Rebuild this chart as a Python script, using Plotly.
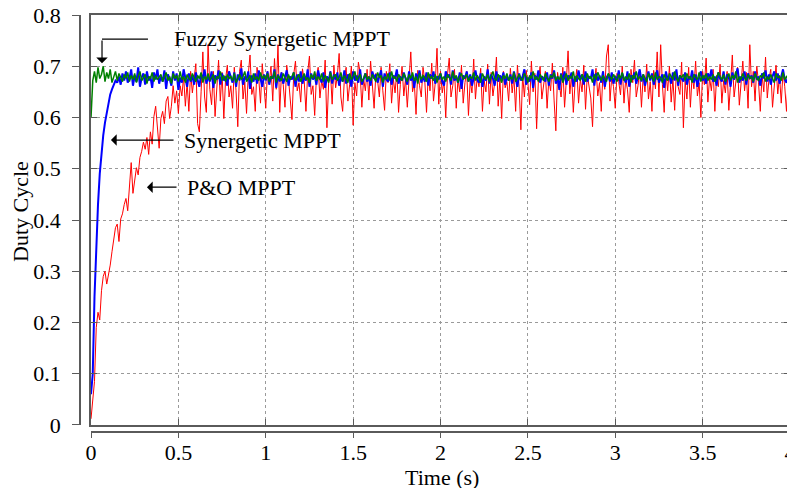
import plotly.graph_objects as go

# Duty cycle samples in thousandths (x1000), sampled uniformly from 0 to 4 s
po_mppt = [
    12, 48, 85, 190, 220, 205, 262, 290, 300, 275, 292, 312, 338, 360, 385, 392, 358, 402, 412, 430,
    442, 418, 470, 512, 452, 482, 502, 488, 522, 534, 552, 538, 561, 528, 572, 548, 602, 622, 578, 540,
    598, 612, 588, 632, 641, 598, 622, 662, 628, 652, 608, 662, 642, 681, 622, 668, 612, 690, 648, 672,
    705, 588, 572, 650, 728, 640, 610, 742, 655, 625, 690, 602, 668, 712, 632, 688, 598, 675, 702, 640,
    662, 618, 698, 652, 582, 690, 712, 636, 670, 608, 684, 722, 645, 660, 612, 698, 676, 628, 705, 650,
    618, 690, 668, 700, 632, 715, 655, 742, 610, 688, 664, 620, 702, 676, 640, 596, 684, 710, 652, 668,
    630, 695, 672, 612, 688, 720, 645, 662, 604, 680, 698, 638, 672, 655, 712, 580, 668, 690, 626, 702,
    658, 684, 725, 640, 612, 676, 698, 632, 664, 700, 585, 668, 642, 708, 688, 620, 676, 652, 694, 634,
    710, 662, 618, 686, 672, 640, 698, 652, 614, 690, 668, 705, 628, 676, 648, 692, 610, 664, 700, 642,
    676, 620, 688, 728, 650, 668, 606, 692, 662, 640, 698, 672, 610, 684, 652, 706, 632, 668, 735, 626,
    690, 648, 672, 600, 684, 716, 640, 662, 694, 618, 676, 650, 702, 628, 668, 690, 604, 672, 648, 714,
    636, 680, 660, 696, 612, 672, 650, 704, 626, 688, 642, 668, 718, 622, 676, 598, 690, 658, 670, 632,
    696, 648, 680, 612, 702, 660, 576, 684, 640, 692, 668, 625, 710, 650, 686, 578, 672, 700, 636, 662,
    690, 618, 676, 652, 706, 634, 574, 688, 662, 640, 698, 620, 672, 730, 646, 684, 610, 668, 694, 628,
    676, 650, 702, 616, 684, 660, 638, 582, 672, 696, 642, 668, 612, 690, 655, 720, 742, 632, 680, 660,
    618, 686, 670, 644, 700, 628, 676, 654, 610, 694, 668, 712, 640, 662, 690, 620, 682, 650, 704, 636,
    670, 612, 692, 656, 728, 640, 742, 664, 610, 688, 652, 700, 630, 676, 614, 692, 660, 645, 708, 580,
    672, 636, 698, 620, 684, 656, 710, 642, 668, 600, 690, 664, 716, 630, 678, 652, 694, 612, 682, 660,
    704, 628, 672, 648, 690, 614, 680, 722, 640, 666, 698, 624, 676, 710, 652, 688, 618, 742, 660, 690,
    632, 700, 668, 612, 684, 650, 718, 638, 676, 694, 620, 664, 702, 646, 682, 628, 690, 660, 612, 675,
    656,
]

synergetic_mppt = [
    60, 100, 250, 360, 430, 490, 530, 565, 590, 610, 625, 645, 655, 665, 672, 668, 680, 664, 686, 672,
    690, 668, 676, 694, 662, 682, 670, 698, 660, 678, 686, 664, 690, 672, 680, 658, 688, 674, 694, 666,
    680, 670, 692, 656, 684, 676, 662, 690, 672, 686, 654, 678, 668, 694, 676, 660, 686, 670, 682, 664,
    688, 672, 660, 684, 676, 694, 666, 680, 670, 690, 658, 682, 674, 692, 664, 686, 672, 680, 662, 690,
    676, 668, 688, 660, 684, 672, 696, 664, 680, 674, 690, 656, 682, 670, 686, 666, 692, 674, 660, 684,
    672, 690, 664, 680, 676, 694, 658, 684, 670, 688, 666, 678, 692, 662, 680, 674, 688, 660, 684, 670,
    690, 666, 680, 672, 694, 660, 686, 674, 682, 664, 692, 676, 668, 688, 658, 680, 672, 690, 666, 684,
    674, 688, 662, 680, 670, 692, 666, 684, 676, 660, 690, 672, 682, 668, 694, 664, 678, 686, 670, 680,
    662, 690, 676, 684, 668, 680, 692, 660, 686, 674, 670, 688, 664, 682, 676, 694, 666, 680, 672, 688,
    676, 664, 690, 672, 682, 658, 686, 674, 692, 668, 680, 670, 688, 662, 684, 676, 690, 666, 680, 674,
    686, 670, 662, 690, 678, 684, 664, 692, 672, 680, 668, 688, 656, 682, 676, 690, 670, 684, 662, 678,
    692, 674, 668, 686, 660, 680, 672, 694, 666, 684, 676, 662, 690, 670, 682, 674, 688, 664, 680, 672,
    684, 666, 690, 676, 660, 686, 672, 680, 694, 664, 678, 670, 688, 658, 682, 674, 692, 668, 680, 676,
    670, 688, 662, 684, 676, 692, 666, 680, 654, 686, 672, 690, 664, 682, 676, 688, 660, 680, 670, 692,
    674, 684, 664, 690, 670, 680, 676, 694, 662, 686, 672, 682, 668, 690, 660, 678, 684, 670, 688, 666,
    680, 672, 692, 664, 686, 676, 668, 690, 660, 682, 674, 688, 666, 680, 694, 670, 684, 662, 678, 690,
    672, 686, 664, 680, 692, 668, 676, 684, 658, 690, 674, 680, 666, 688, 672, 694, 662, 682, 676, 670,
    688, 664, 680, 674, 692, 668, 684, 660, 678, 690, 672, 682, 666, 686, 676, 694, 670, 680, 662, 688,
    676, 670, 690, 664, 684, 678, 660, 688, 674, 682, 696, 668, 680, 672, 690, 664, 686, 676, 682, 668,
    690, 674, 680, 662, 686, 676, 692, 670, 684, 664, 680, 690, 672, 686, 666, 680, 694, 674, 668, 684,
    676,
]

fuzzy_synergetic_mppt = [
    600, 672, 690, 668, 698, 676, 684, 700, 670, 688, 676, 694, 668, 682, 690, 672, 686, 678, 670, 684,
    676, 688, 670, 682, 674, 686, 668, 680, 690, 672, 678, 684, 666, 680, 676, 688, 670, 682, 674, 680,
    684, 670, 678, 688, 672, 680, 666, 686, 676, 682, 670, 690, 674, 680, 668, 684, 676, 672, 686, 678,
    670, 682, 676, 688, 668, 680, 674, 686, 672, 678, 684, 666, 680, 676, 690, 672, 682, 670, 684, 676,
    680, 672, 686, 668, 678, 684, 674, 680, 690, 670, 676, 682, 668, 686, 674, 680, 672, 688, 676, 682,
    674, 686, 670, 680, 676, 690, 668, 682, 676, 672, 686, 678, 670, 684, 674, 680, 688, 672, 678, 684,
    670, 680, 686, 674, 678, 668, 684, 676, 690, 672, 680, 674, 686, 670, 682, 676, 668, 688, 674, 680,
    684, 672, 678, 688, 670, 682, 676, 668, 686, 674, 680, 690, 672, 678, 684, 670, 676, 686, 674, 680,
    672, 684, 676, 670, 688, 678, 682, 668, 680, 674, 686, 672, 690, 676, 680, 670, 684, 678, 672, 686,
    678, 670, 684, 676, 688, 672, 680, 666, 686, 674, 682, 678, 670, 688, 676, 680, 672, 684, 668, 680,
    686, 674, 680, 670, 684, 678, 672, 690, 676, 682, 668, 680, 686, 674, 678, 684, 670, 680, 676, 688,
    672, 682, 676, 668, 686, 678, 674, 684, 670, 680, 690, 676, 672, 684, 678, 668, 682, 676, 686, 672,
    680, 674, 688, 670, 678, 684, 676, 672, 686, 680, 668, 682, 676, 690, 674, 680, 670, 684, 678, 672,
    686, 676, 670, 682, 678, 688, 672, 680, 674, 684, 668, 678, 686, 672, 680, 676, 690, 670, 682, 676,
    672, 684, 678, 670, 686, 676, 680, 668, 684, 674, 688, 678, 672, 682, 676, 670, 686, 680, 674, 684,
    678, 670, 684, 676, 688, 672, 680, 674, 686, 668, 682, 676, 690, 674, 680, 672, 684, 678, 670, 686,
    676, 682, 670, 688, 674, 680, 678, 668, 684, 676, 672, 686, 680, 674, 690, 676, 670, 682, 678, 684,
    672, 686, 676, 680, 668, 684, 678, 674, 688, 670, 682, 676, 686, 672, 680, 674, 684, 670, 678, 688,
    680, 674, 684, 670, 678, 686, 672, 682, 676, 690, 668, 680, 674, 686, 678, 672, 684, 676, 680, 670,
    686, 676, 672, 682, 678, 688, 670, 680, 674, 684, 676, 668, 686, 678, 680, 672, 688, 674, 680, 676,
    678,
]

T_END = 4.0
x_ticks = [0, 0.5, 1, 1.5, 2, 2.5, 3, 3.5, 4]
x_tick_labels = ["0", "0.5", "1", "1.5", "2", "2.5", "3", "3.5", "4"]
y_ticks = [0, 0.1, 0.2, 0.3, 0.4, 0.5, 0.6, 0.7, 0.8]
y_tick_labels = ["0", "0.1", "0.2", "0.3", "0.4", "0.5", "0.6", "0.7", "0.8"]


def times(vals):
    n = len(vals)
    return [T_END * i / (n - 1) for i in range(n)]


def duty(vals):
    return [v / 1000.0 for v in vals]


FONT = "Liberation Serif"
AX = "#5a5a5a"

fig = go.Figure()
fig.add_trace(go.Scatter(x=times(po_mppt), y=duty(po_mppt), mode="lines",
                         line=dict(color="#ff0000", width=1), name="P&O MPPT"))
fig.add_trace(go.Scatter(x=times(synergetic_mppt), y=duty(synergetic_mppt), mode="lines",
                         line=dict(color="#0000ff", width=2), name="Synergetic MPPT"))
fig.add_trace(go.Scatter(x=times(fuzzy_synergetic_mppt), y=duty(fuzzy_synergetic_mppt), mode="lines",
                         line=dict(color="#008000", width=1.5), name="Fuzzy Synergetic MPPT"))
# carrier trace for the offset axes
fig.add_trace(go.Scatter(x=[None], y=[None], xaxis="x2", yaxis="y2", showlegend=False,
                         hoverinfo="skip"))

box_axis = dict(showgrid=True, gridcolor="#9a9a9a", griddash="dot", gridwidth=1,
                ticks="inside", ticklen=6, tickcolor=AX, tickwidth=1,
                showline=True, linecolor=AX, linewidth=1.5, mirror="ticks",
                showticklabels=False, zeroline=False, automargin=False)

# The page body keeps its default 8px margin: the figure is sized so that the
# page does not overflow the 795x496 window, and margins never auto-expand.
fig.update_layout(
    width=787, height=480,
    margin=dict(l=72, r=5, t=7, b=56, pad=0, autoexpand=False),
    paper_bgcolor="white", plot_bgcolor="white",
    showlegend=False,
    font=dict(family=FONT, color="black"),
    xaxis=dict(domain=[0.0155, 1], range=[0, 4], tickvals=x_ticks, **box_axis),
    yaxis=dict(domain=[0.0168, 1], range=[0, 0.8], tickvals=y_ticks, **box_axis),
    xaxis2=dict(overlaying="x", anchor="free", position=0, range=[0, 4],
                tickvals=x_ticks, ticktext=x_tick_labels, ticks="outside", ticklen=5,
                tickcolor=AX, showline=True, linecolor=AX, linewidth=1.5,
                showgrid=False, zeroline=False, automargin=False,
                ticklabeloverflow="allow", ticklabelstandoff=-4,
                tickfont=dict(family=FONT, size=22, color="black")),
    yaxis2=dict(overlaying="y", anchor="free", position=0, range=[0, 0.8],
                tickvals=y_ticks, ticktext=y_tick_labels, ticks="outside", ticklen=7,
                tickcolor=AX, showline=True, linecolor=AX, linewidth=1.5,
                showgrid=False, zeroline=False, automargin=False,
                ticklabelstandoff=7, ticklabeloverflow="allow",
                tickfont=dict(family=FONT, size=22, color="black")),
)

txt = dict(family=FONT, size=22, color="black")
anns = [
    dict(text="Time (s)", xref="paper", yref="paper", x=0.51, y=-0.11,
         xanchor="center", yanchor="middle", showarrow=False, font=txt),
    dict(text="Duty Cycle", xref="paper", yref="paper", x=-0.0831, y=0.53,
         xanchor="center", yanchor="middle", textangle=-90, showarrow=False, font=txt),
    dict(text="Fuzzy Synergetic MPPT", x=0.4635, y=0.755, xanchor="left", yanchor="middle",
         showarrow=False, font=txt),
    dict(text="Synergetic MPPT", x=0.521, y=0.556, xanchor="left", yanchor="middle",
         showarrow=False, font=txt),
    dict(text="P&O MPPT", x=0.538, y=0.464, xanchor="left", yanchor="middle",
         showarrow=False, font=txt),
]
arrow = dict(text="", showarrow=True, arrowhead=1, arrowsize=1.6, arrowwidth=1.2,
             arrowcolor="black", axref="x", ayref="y", standoff=0)
anns += [
    dict(x=0.114, y=0.556, ax=0.481, ay=0.556, **arrow),
    dict(x=0.320, y=0.464, ax=0.498, ay=0.464, **arrow),
    dict(x=0.063, y=0.706, ax=0.063, ay=0.753, **arrow),
]
fig.update_layout(annotations=anns)
fig.add_shape(type="line", x0=0.326, y0=0.753, x1=0.063, y1=0.753,
              line=dict(color="black", width=1.2))

fig.write_html("out.html", config={"displayModeBar": False})
